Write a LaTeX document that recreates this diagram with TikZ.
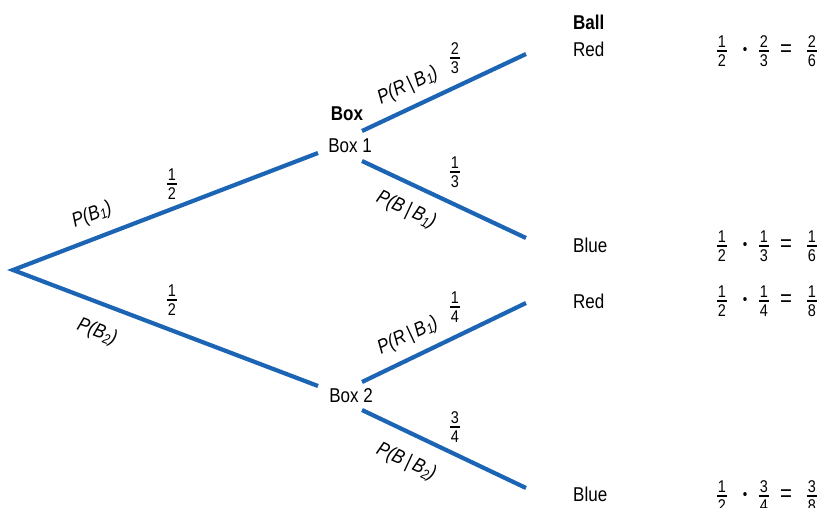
\documentclass[tikz,border=0pt]{standalone}
\usepackage{fontspec}
\setmainfont{Liberation Sans}[FakeStretch=0.85]
\definecolor{lineblue}{RGB}{28,100,180}
\newcommand\fr[2]{\vbox{\hbox to 10.5pt{\hss#1\hss}\kern2.8pt\hrule height 1.4pt\kern2.8pt\hbox to 10.5pt{\hss#2\hss}}}
\newcommand\sbs[1]{\raisebox{-3pt}{\fontsize{14}{14}\selectfont #1}}
\begin{document}
\begin{tikzpicture}[x=1pt,y=-1pt,
  branch/.style={draw=lineblue,line width=4.2pt},
  lab/.style={font=\fontsize{20}{23}\selectfont,inner sep=0pt},
  hdr/.style={font=\fontsize{20}{23}\selectfont\bfseries,inner sep=0pt},
  plab/.style={font=\fontsize{20}{23}\selectfont\itshape,inner sep=0pt},
  frac/.style={font=\fontsize{17}{19}\selectfont,inner sep=0pt},
  dotn/.style={font=\fontsize{15}{15}\selectfont,inner sep=0pt},
  eqn/.style={font=\fontsize{24}{24}\selectfont,inner sep=0pt}]
\useasboundingbox (0,0) rectangle (819,508);
% tree coordinates
\coordinate (root) at (13,270);
\coordinate (b1in) at (318,153);
\coordinate (b2in) at (318,386);
\coordinate (b1up) at (362,131);
\coordinate (b1dn) at (362,161);
\coordinate (b2up) at (362,382);
\coordinate (b2dn) at (362,410);
\coordinate (r1end) at (526,54);
\coordinate (u1end) at (526,238);
\coordinate (r2end) at (526,303);
\coordinate (u2end) at (526,488);
% connectors
\draw[branch,miter limit=20] (b1in) -- (root) -- (b2in);
\draw[branch] (b1up) -- (r1end);
\draw[branch] (b1dn) -- (u1end);
\draw[branch] (b2up) -- (r2end);
\draw[branch] (b2dn) -- (u2end);
% box labels
\node[hdr] (boxhdr) at (347,113.5) {Box};
\node[lab] (box1) at (350,146) {Box 1};
\node[lab] (box2) at (351,396) {Box 2};
% leaves
\node[hdr,anchor=base west] (ballhdr) at (573,30) {Ball};
\node[lab,anchor=base west] (red1) at (573,57) {Red};
\node[lab,anchor=base west] (blue1) at (573,252) {Blue};
\node[lab,anchor=base west] (red2) at (573,308) {Red};
\node[lab,anchor=base west] (blue2) at (573,501) {Blue};
% branch probabilities
\node[frac] (f1) at (172,184) {\fr{1}{2}};
\node[frac] (f2) at (172,300) {\fr{1}{2}};
\node[frac] (f3) at (455,58) {\fr{2}{3}};
\node[frac] (f4) at (455,172) {\fr{1}{3}};
\node[frac] (f5) at (455,307) {\fr{1}{4}};
\node[frac] (f6) at (455,427) {\fr{3}{4}};
% conditional labels
\node[plab,rotate=21] (pb1) at (92,215) {P(B\sbs{1})};
\node[plab,rotate=-21] (pb2) at (97,332) {P(B\sbs{2})};
\node[plab,rotate=25] (prb1) at (408,86) {P(R\,|\,B\sbs{1})};
\node[plab,rotate=-25] (pbb1) at (406,210) {P(B\,|\,B\sbs{1})};
\node[plab,rotate=25] (prb1b) at (408,336) {P(R\,|\,B\sbs{1})};
\node[plab,rotate=-25] (pbb2) at (406,462) {P(B\,|\,B\sbs{2})};
% products
\foreach \y/\a/\b/\c/\d/\e/\f/\n in {51/1/2/2/3/2/6/a, 246/1/2/1/3/1/6/b, 301/1/2/1/4/1/8/c, 496/1/2/3/4/3/8/d}{
  \node[frac] (p\n1) at (722,\y) {\fr{\a}{\b}};
  \node[dotn] (p\n2) at (745,\y) {•};
  \node[frac] (p\n3) at (764,\y) {\fr{\c}{\d}};
  \node[eqn] (p\n4) at (786,\y) {=};
  \node[frac] (p\n5) at (812,\y) {\fr{\e}{\f}};
}
\end{tikzpicture}
\end{document}
